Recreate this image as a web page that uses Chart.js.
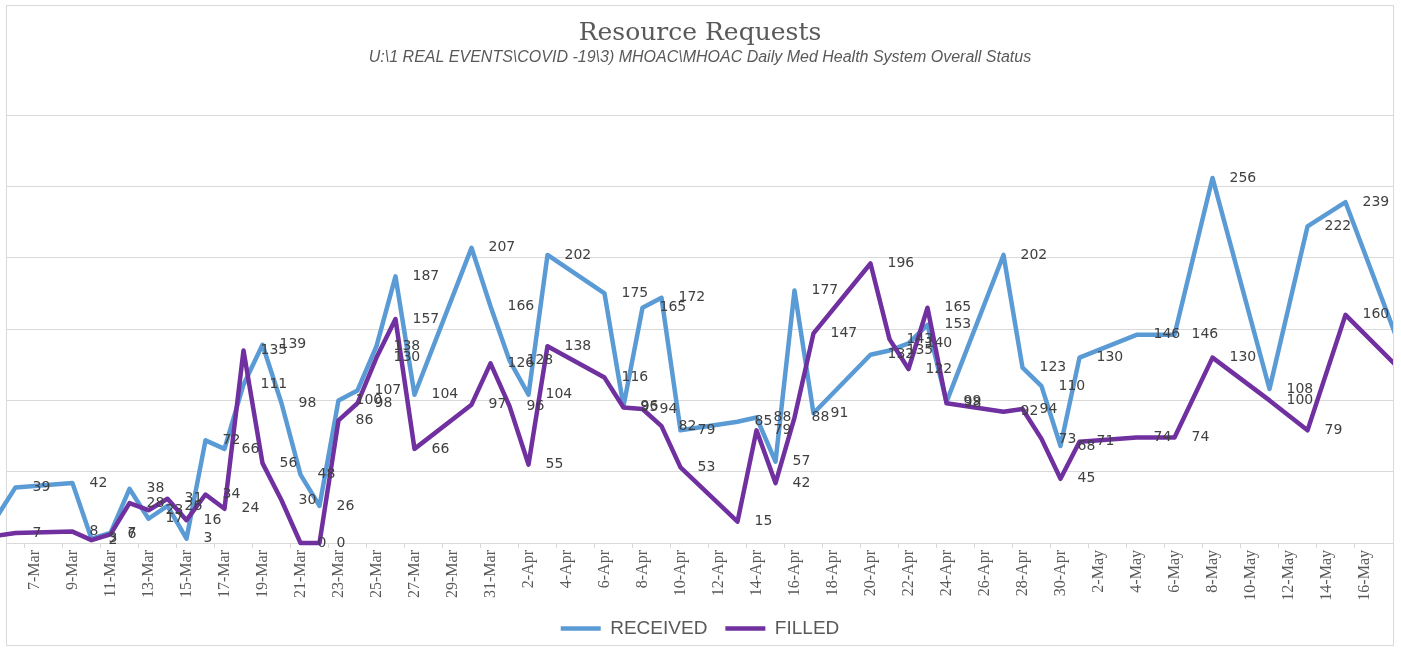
<!DOCTYPE html>
<html>
<head>
<meta charset="utf-8">
<title>Resource Requests</title>
<script src="https://cdn.jsdelivr.net/npm/chart.js@4.4.1/dist/chart.umd.min.js"></script>
<style>
    html, body { margin: 0; padding: 0; background: #fff; }
    #wrap { position: relative; width: 1401px; height: 650px; }
</style>
</head>
<body>
<div id="wrap"><canvas id="requestsChart" width="1401" height="650"></canvas></div>
<script>
// Days that have a report (the chart skips the others)
const dates = ['5-Mar', '6-Mar', '9-Mar', '10-Mar', '11-Mar', '12-Mar', '13-Mar', '14-Mar', '15-Mar', '16-Mar',
    '17-Mar', '18-Mar', '19-Mar', '20-Mar', '21-Mar', '22-Mar', '23-Mar', '24-Mar', '25-Mar', '26-Mar',
    '27-Mar', '30-Mar', '31-Mar', '1-Apr', '2-Apr', '3-Apr', '6-Apr', '7-Apr', '8-Apr', '9-Apr',
    '10-Apr', '13-Apr', '14-Apr', '15-Apr', '16-Apr', '17-Apr', '20-Apr', '21-Apr', '22-Apr', '23-Apr',
    '24-Apr', '27-Apr', '28-Apr', '29-Apr', '30-Apr', '1-May', '4-May', '6-May', '8-May', '11-May',
    '13-May', '15-May', '18-May'];

const received = [18, 39, 42, 3, 7, 38, 17, 26, 3, 72,
    66, 111, 139, 98, 48, 26, 100, 107, 138, 187,
    104, 207, 166, 128, 104, 202, 175, 96, 165, 172,
    79, 85, 88, 57, 177, 91, 132, 135, 140, 153,
    99, 202, 123, 110, 68, 130, 146, 146, 256, 108,
    222, 239, 133];

const filled = [5, 7, 8, 2, 6, 28, 23, 31, 16, 34,
    24, 135, 56, 30, 0, 0, 86, 98, 130, 157,
    66, 97, 126, 96, 55, 138, 116, 95, 94, 82,
    53, 15, 79, 42, 88, 147, 196, 143, 122, 165,
    98, 92, 94, 73, 45, 71, 74, 74, 130, 100,
    79, 160, 120];

const seriesNames = ['RECEIVED', 'FILLED'];
const yTicks = [0, 50, 100, 150, 200, 250, 300];
const monthOffsets = { Mar: 0, Apr: 31, May: 61 };

// '7-Mar' -> day number counted from 1 March
function dayNumber(label) {
    const parts = label.split('-');
    return Number(parts[0]) + monthOffsets[parts[1]];
}

// day number -> '7-Mar'
function dayLabel(n) {
    if (n > 61) return (n - 61) + '-May';
    if (n > 31) return (n - 31) + '-Apr';
    return n + '-Mar';
}

function toPoints(values) {
    return dates.map((d, i) => ({ x: dayNumber(d), y: values[i] }));
}

// Value labels drawn to the right of each point
const valueLabels = {
    id: 'valueLabels',
    afterDatasetsDraw(chart) {
        const ctx = chart.ctx;
        const area = chart.chartArea;
        ctx.save();
        ctx.font = '14px "DejaVu Sans"';
        ctx.fillStyle = '#404040';
        ctx.textAlign = 'left';
        ctx.textBaseline = 'middle';
        chart.data.datasets.forEach((ds, i) => {
            chart.getDatasetMeta(i).data.forEach((pt, j) => {
                const v = ds.data[j].y;
                if (v === null || pt.x < area.left || pt.x > area.right) return;
                ctx.fillText(String(v), pt.x + 17, pt.y);
            });
        });
        ctx.restore();
    }
};

// Outer chart frame
const chartFrame = {
    id: 'chartFrame',
    beforeDatasetsDraw(chart) {
        const ctx = chart.ctx;
        ctx.save();
        ctx.strokeStyle = '#d9d9d9';
        ctx.lineWidth = 1;
        ctx.strokeRect(6.5, 5.5, 1387, 640);
        ctx.restore();
    }
};

const ctx = document.getElementById('requestsChart').getContext('2d');
new Chart(ctx, {
    type: 'line',
    data: {
        datasets: [
            {
                label: seriesNames[0],
                data: toPoints(received),
                borderColor: '#5B9BD5',
                backgroundColor: '#5B9BD5',
                borderWidth: 4.5,
                pointRadius: 0,
                tension: 0,
                borderJoinStyle: 'round',
                borderCapStyle: 'round',
                clip: { left: false, top: false, right: 0, bottom: false },
                order: 2
            },
            {
                label: seriesNames[1],
                data: toPoints(filled),
                borderColor: '#7030A0',
                backgroundColor: '#7030A0',
                borderWidth: 4.5,
                pointRadius: 0,
                tension: 0,
                borderJoinStyle: 'round',
                borderCapStyle: 'round',
                clip: { left: false, top: false, right: 0, bottom: false },
                order: 1
            }
        ]
    },
    options: {
        responsive: false,
        animation: false,
        layout: { padding: { left: 7, right: 8, top: 0, bottom: 2 } },
        scales: {
            x: {
                type: 'linear',
                min: 5.553,
                max: 78.5,
                afterBuildTicks: function(scale) {
                    const ticks = [];
                    for (let v = 6.5; v <= 78.5; v += 2) ticks.push({ value: v });
                    scale.ticks = ticks;
                },
                afterFit: function(scale) {
                    scale.height = 58;
                    scale.paddingLeft = 0;
                    scale.paddingRight = 0;
                },
                grid: {
                    drawOnChartArea: false,
                    drawTicks: true,
                    tickLength: 5,
                    tickColor: '#d9d9d9'
                },
                border: { display: true, color: '#d9d9d9' },
                ticks: {
                    autoSkip: false,
                    minRotation: 90,
                    maxRotation: 90,
                    padding: 2,
                    labelOffset: 9.5,
                    color: '#595959',
                    font: { family: '"Liberation Serif"', size: 16 },
                    callback: function(value) {
                        const day = value + 0.5;
                        return day > 78 ? '' : dayLabel(day);
                    }
                }
            },
            y: {
                min: yTicks[0],
                max: yTicks[yTicks.length - 1],
                afterBuildTicks: function(scale) {
                    scale.ticks = yTicks.map(v => ({ value: v }));
                },
                afterFit: function(scale) {
                    scale.width = 0;
                },
                grid: { color: '#d9d9d9', drawTicks: false },
                border: { display: false },
                ticks: { display: false }
            }
        },
        plugins: {
            title: {
                display: true,
                text: 'Resource Requests',
                color: '#595959',
                font: { family: '"DejaVu Serif"', size: 25, weight: 'normal' },
                padding: { top: 18, bottom: 0 }
            },
            subtitle: {
                display: true,
                text: 'U:\\1 REAL EVENTS\\COVID -19\\3) MHOAC\\MHOAC Daily Med Health System Overall Status',
                color: '#595959',
                font: { family: '"Liberation Sans"', size: 16, style: 'italic' },
                padding: { top: 0, bottom: 48 }
            },
            legend: {
                position: 'bottom',
                labels: {
                    usePointStyle: true,
                    pointStyle: 'line',
                    pointStyleWidth: 40,
                    padding: 18,
                    color: '#595959',
                    font: { family: '"Liberation Sans"', size: 19 },
                    sort: (a, b) => a.datasetIndex - b.datasetIndex
                }
            },
            tooltip: { enabled: false }
        }
    },
    plugins: [chartFrame, valueLabels]
});
</script>
</body>
</html>
